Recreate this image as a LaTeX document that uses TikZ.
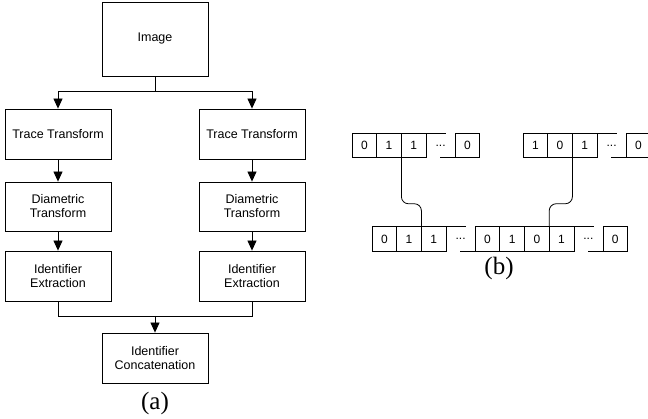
\documentclass[tikz,border=0pt]{standalone}
\usepackage{fontspec}
\setmainfont{Liberation Sans}
\newfontfamily\capfont{Liberation Serif}
\usetikzlibrary{arrows.meta}
\begin{document}
\begin{tikzpicture}[x=1pt, y=1pt, line width=0.8pt,
  >={Triangle[width=9pt,length=10pt]},
  box/.style={draw, inner sep=0pt, minimum width=106pt, minimum height=50pt,
    align=center, font=\fontsize{12.5}{14}\selectfont},
  cell/.style={draw, inner sep=0pt, outer sep=0pt, minimum width=24.7pt,
    minimum height=24.5pt, font=\fontsize{12}{13}\selectfont},
  gapcell/.style={inner sep=0pt, outer sep=0pt, minimum width=29pt,
    minimum height=24.5pt, font=\fontsize{12}{13}\selectfont},
  caption/.style={font=\capfont\fontsize{25}{27}\selectfont}]
\useasboundingbox (0,0) rectangle (648,419);
% (a) flow chart
\node[box, minimum height=74pt] at (155, 380) (img) {Image};
\node[box] at ( 58, 285) (traceL) {Trace Transform};
\node[box] at (252, 285) (traceR) {Trace Transform};
\node[box, minimum height=49pt] at ( 58, 212.5) (diamL) {Diametric\\Transform};
\node[box, minimum height=49pt] at (252, 212.5) (diamR) {Diametric\\Transform};
\node[box] at ( 58, 143) (identL) {Identifier\\Extraction};
\node[box] at (252, 143) (identR) {Identifier\\Extraction};
\node[box] at (155, 61) (concat) {Identifier\\Concatenation};
\node[caption] at (155, 16) (capA) {(a)};
\coordinate (split) at (155, 328);
\coordinate (merge) at (155, 103);
\draw (img) -- (split);
\draw[->] (split) -| (traceL);
\draw[->] (split) -| (traceR);
\draw[->] (traceL) -- (diamL);
\draw[->] (traceR) -- (diamR);
\draw[->] (diamL) -- (identL);
\draw[->] (diamR) -- (identR);
\draw (identL) |- (merge);
\draw (identR) |- (merge);
\draw[->] (merge) -- (concat);
% (b) bit strings
\node[cell] at (364.35, 273.5) (tl1) {0};
\node[cell] at (389.05, 273.5) (tl2) {1};
\node[cell] at (413.75, 273.5) (tl3) {1};
\node[gapcell] at (440.6, 273.5) (tl4) {...};
\node[cell] at (467.45, 273.5) (tl5) {0};
\node[cell] at (535.35, 273.5) (tr1) {1};
\node[cell] at (560.05, 273.5) (tr2) {0};
\node[cell] at (584.75, 273.5) (tr3) {1};
\node[gapcell] at (611.6, 273.5) (tr4) {...};
\node[cell] at (638.45, 273.5) (tr5) {0};
\node[cell] at (384.35, 180) (b1) {0};
\node[cell] at (409.05, 180) (b2) {1};
\node[cell] at (433.75, 180) (b3) {1};
\node[gapcell] at (460.6, 180) (b4) {...};
\node[cell] at (487.45, 180) (b5) {0};
\node[cell] at (512.15, 180) (b6) {1};
\node[cell] at (536.85, 180) (b7) {0};
\node[cell] at (561.55, 180) (b8) {1};
\node[gapcell] at (588.4, 180) (b9) {...};
\node[cell] at (615.25, 180) (b10) {0};
\node[caption] at (499, 151) (capB) {(b)};
% broken borders of the gap cells
\draw (tl4.north west) -- ++(20,0);
\draw (tl4.south east) -- ++(-15,0);
\draw (tr4.north west) -- ++(20,0);
\draw (tr4.south east) -- ++(-15,0);
\draw (b4.north west) -- ++(20,0);
\draw (b4.south east) -- ++(-15,0);
\draw (b9.north west) -- ++(20,0);
\draw (b9.south east) -- ++(-15,0);
% links
\draw[rounded corners=7pt] (tl3.south west) -- ++(0,-46) -| (b3.north west);
\draw[rounded corners=7pt] (tr3.south west) -- ++(0,-46) -| (b8.north west);
\end{tikzpicture}
\end{document}
